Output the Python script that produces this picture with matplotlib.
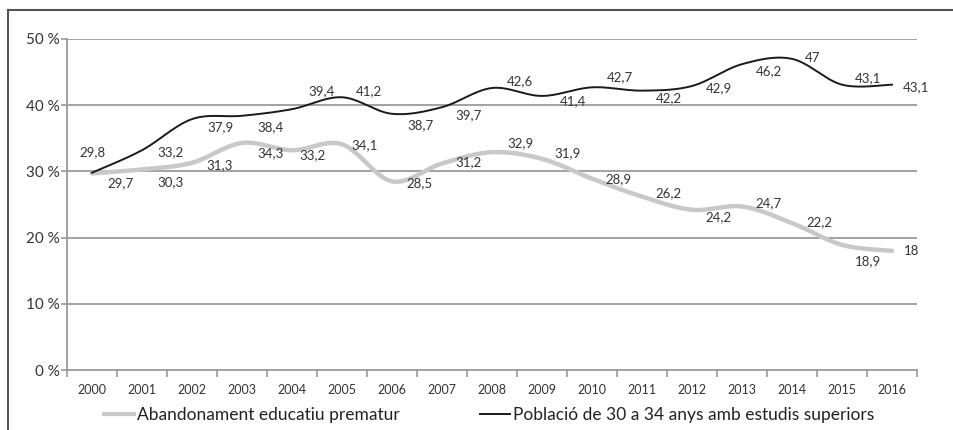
import numpy as np
import matplotlib
matplotlib.use("Agg")
import matplotlib.pyplot as plt
from matplotlib.lines import Line2D

years = [str(y) for y in range(2000, 2017)]
abandonament = [29.7, 30.3, 31.3, 34.3, 33.2, 34.1, 28.5, 31.2, 32.9, 31.9,
                28.9, 26.2, 24.2, 24.7, 22.2, 18.9, 18.0]
poblacio = [29.8, 33.2, 37.9, 38.4, 39.4, 41.2, 38.7, 39.7, 42.6, 41.4,
            42.7, 42.2, 42.9, 46.2, 47.0, 43.1, 43.1]
yticks = [0, 10, 20, 30, 40, 50]
series_names = ["Abandonament educatiu prematur",
                "Població de 30 a 34 anys amb estudis superiors"]

# label offsets in pixels (dx right, dy down)
pob_dx = [1, 29, 28, 29, 30, 27, 28, 27, 28, 31, 28, 27, 27, 27, 21, 26, 24]
pob_dy = [-21, 2, 8, 11, -18, -6, 11, 8, -7, 5, -10, 8, 2, 7, -1, -7, 2]
ab_dx = [29, 29, 28, 29, 21, 23, 28, 27, 28, 26, 26, 27, 27, 27, 27, 26, 20]
ab_dy = [10, 13, 2, 10, 5, 1, 2, -1, -9, -6, 0, -3, 7, -3, -1, 16, 0]

FONT = "Lato"
plt.rcParams['font.family'] = [FONT, 'DejaVu Sans']


def smooth(xs, ys, n=30):
    xs = np.asarray(xs, float)
    ys = np.asarray(ys, float)
    P = np.column_stack([xs, ys])
    out = []
    m = len(P)
    for i in range(m - 1):
        p0 = P[i - 1] if i > 0 else P[i]
        p1 = P[i]
        p2 = P[i + 1]
        p3 = P[i + 2] if i + 2 < m else P[i + 1]
        c1 = p1 + (p2 - p0) / 6.0
        c2 = p2 - (p3 - p1) / 6.0
        t = np.linspace(0, 1, n, endpoint=(i == m - 2))[:, None]
        seg = ((1 - t) ** 3) * p1 + 3 * ((1 - t) ** 2) * t * c1 + 3 * (1 - t) * t ** 2 * c2 + t ** 3 * p2
        out.append(seg)
    out = np.vstack(out)
    return out[:, 0], out[:, 1]


W, H = 954, 430
fig = plt.figure(figsize=(W / 100, H / 100), dpi=100)
ax = fig.add_axes([67 / W, (H - 370) / H, 850 / W, 331 / H])

x = np.arange(len(years))
grid_col = "#9a9a9a"
for yv in yticks[1:]:
    ax.axhline(yv, color=grid_col, lw=1.3, zorder=1)

gx, gy = smooth(x, abandonament)
ax.plot(gx, gy, color="#c8c8c8", lw=3.2, solid_capstyle='round', zorder=3)
bx, by = smooth(x, poblacio)
ax.plot(bx, by, color="#1a1a1a", lw=1.4, zorder=4)

def fmt(v):
    s = f"{v:.1f}".replace(".", ",")
    if s.endswith(",0"):
        s = s[:-2]
    return s

for i, v in enumerate(poblacio):
    ax.annotate(fmt(v), (x[i], v), xytext=(pob_dx[i], -pob_dy[i]),
                textcoords='offset pixels', ha='center', va='center',
                fontsize=9.5, color="#333333", zorder=5)
for i, v in enumerate(abandonament):
    ax.annotate(fmt(v), (x[i], v), xytext=(ab_dx[i], -ab_dy[i]),
                textcoords='offset pixels', ha='center', va='center',
                fontsize=9.5, color="#333333", zorder=5)

ax.set_xlim(-0.5, len(years) - 0.5)
ax.set_ylim(0, 50)
ax.set_yticks(yticks)
ax.set_yticklabels([f"{v} %" for v in yticks], fontsize=11, color="#333333")
ax.set_xticks(np.arange(-0.5, len(years), 1.0))
ax.set_xticklabels([])
ax.set_xticks(x, minor=True)
ax.set_xticklabels(years, minor=True, fontsize=9, color="#333333")
ax.tick_params(axis='x', which='major', length=5, width=1.2, color=grid_col, direction='out')
ax.tick_params(axis='x', which='minor', length=0, pad=10)
ax.tick_params(axis='y', length=4, width=1.2, color=grid_col, pad=1)

for s in ['top', 'right']:
    ax.spines[s].set_visible(False)
for s in ['left', 'bottom']:
    ax.spines[s].set_color(grid_col)
    ax.spines[s].set_linewidth(1.3)

handles = [Line2D([], [], color="#c8c8c8", lw=3),
           Line2D([], [], color="#1a1a1a", lw=1.4)]
fig.legend(handles, series_names, loc='center left',
           bbox_to_anchor=(104 / W, (H - 415) / H), borderaxespad=0, borderpad=0,
           ncol=2, frameon=False, fontsize=12.5, handlelength=1.75, handletextpad=0.15,
           columnspacing=4.6, labelcolor="#222222")

# outer frame lines (top and left)
fig.add_artist(Line2D([8 / W, 1], [(H - 10) / H, (H - 10) / H], color="#555555", lw=1.5,
                      transform=fig.transFigure))
fig.add_artist(Line2D([8 / W, 8 / W], [0, (H - 10) / H], color="#555555", lw=1.5,
                      transform=fig.transFigure))

fig.savefig("out.png", dpi=100)
